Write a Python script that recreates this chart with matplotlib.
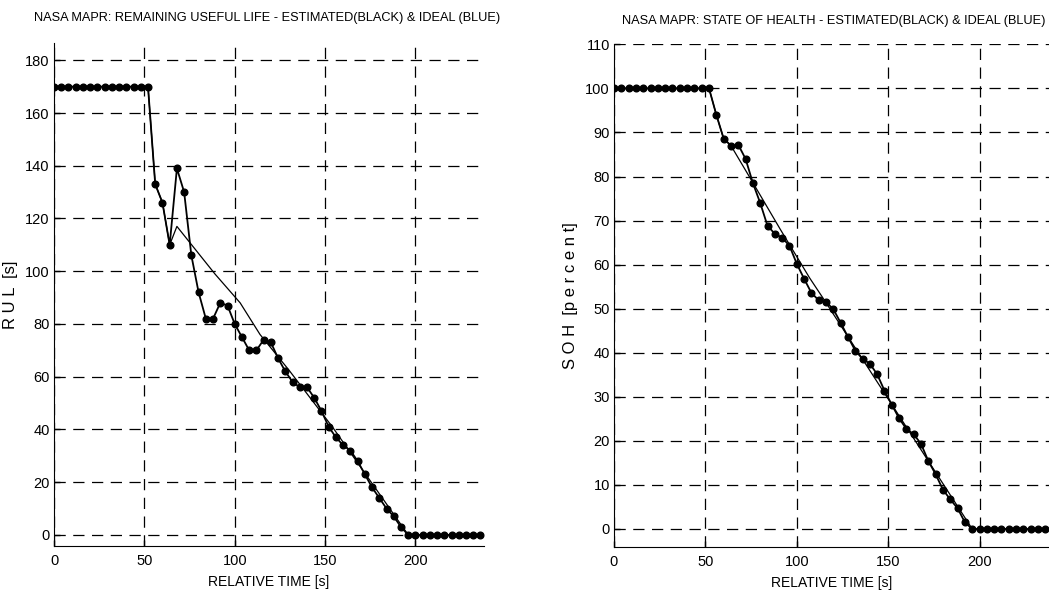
import numpy as np
import matplotlib
matplotlib.use('Agg')
import matplotlib.pyplot as plt

plt.rcParams['font.family'] = ['Liberation Sans', 'DejaVu Sans']

# sample times (s)
t = np.arange(0, 240, 4)

# RUL estimated (black dots)
rul_est = [170]*14 + [133, 126, 110, 139, 130, 106, 92, 82, 82, 88, 87, 80, 75, 70, 70, 74,
                      73, 67, 62, 58, 56, 56, 52, 47, 41, 37, 34, 32, 28, 23, 18, 14, 10, 7, 3] + [0]*11
# RUL ideal
rul_ideal_t = [0, 52, 56, 60, 64, 68, 89, 103, 114, 130, 154, 196, 236]
rul_ideal = [170, 170, 133, 126, 110, 117, 99, 88, 76, 62.5, 41, 0, 0]

# SOH estimated
soh_est = [100]*14 + [94.0, 88.6, 87.0, 87.2, 84.0, 78.5, 74.0, 68.8, 67.0, 66.1, 64.3, 60.2,
                      56.8, 53.6, 51.9, 51.5, 49.9, 46.8, 43.6, 40.5, 38.6, 37.5, 35.1, 31.4,
                      28.2, 25.1, 22.7, 21.5, 19.3, 15.4, 12.4, 8.9, 6.7, 4.7, 1.5] + [0]*11
# SOH ideal
soh_ideal_t = [0, 52, 56, 60, 64, 74, 91, 107, 115, 196, 236]
soh_ideal = [100, 100, 94, 88.6, 87, 80, 68, 57, 52, 0, 0]

fig = plt.figure(figsize=(10.49, 5.99), dpi=100)
ax1 = fig.add_axes([0.0515, 0.0885, 0.41, 0.8395])
ax2 = fig.add_axes([0.5853, 0.0875, 0.4147, 0.8385])


def style(ax, ylim, yticks, ylabel):
    ax.set_xlim(0, 238)
    ax.set_ylim(*ylim)
    ax.set_xticks([0, 50, 100, 150, 200])
    ax.set_yticks(yticks)
    ax.spines['top'].set_visible(False)
    ax.spines['right'].set_visible(False)
    ax.grid(True, color='black', linestyle=(0, (9, 6)), linewidth=0.9)
    ax.tick_params(direction='in', length=4, labelsize=10.5, width=1, pad=3)
    ax.tick_params(axis='x', pad=6)
    ax.set_xlabel('RELATIVE TIME [s]', fontsize=10, labelpad=5)
    ax.set_ylabel(ylabel, fontsize=12, labelpad=5)


ax1.plot(rul_ideal_t, rul_ideal, color='black', linewidth=0.9)
ax1.plot(t, rul_est, color='black', linewidth=1.3, marker='o', markersize=4.8)
style(ax1, (-4.2, 186.5), np.arange(0, 181, 20), 'R U L  [s]')

ax2.plot(soh_ideal_t, soh_ideal, color='black', linewidth=0.9)
ax2.plot(t, soh_est, color='black', linewidth=1.3, marker='o', markersize=4.8)
style(ax2, (-4, 110), np.arange(0, 111, 10), 'S O H  [p e r c e n t]')

fig.text(34/1049, 1 - 18/599, 'NASA MAPR: REMAINING USEFUL LIFE - ESTIMATED(BLACK) & IDEAL (BLUE)',
         fontsize=9.2, ha='left', va='center')
fig.text(1045/1049, 1 - 21/599, 'NASA MAPR: STATE OF HEALTH - ESTIMATED(BLACK) & IDEAL (BLUE)',
         fontsize=9.2, ha='right', va='center')

fig.savefig('out.png', dpi=100)
